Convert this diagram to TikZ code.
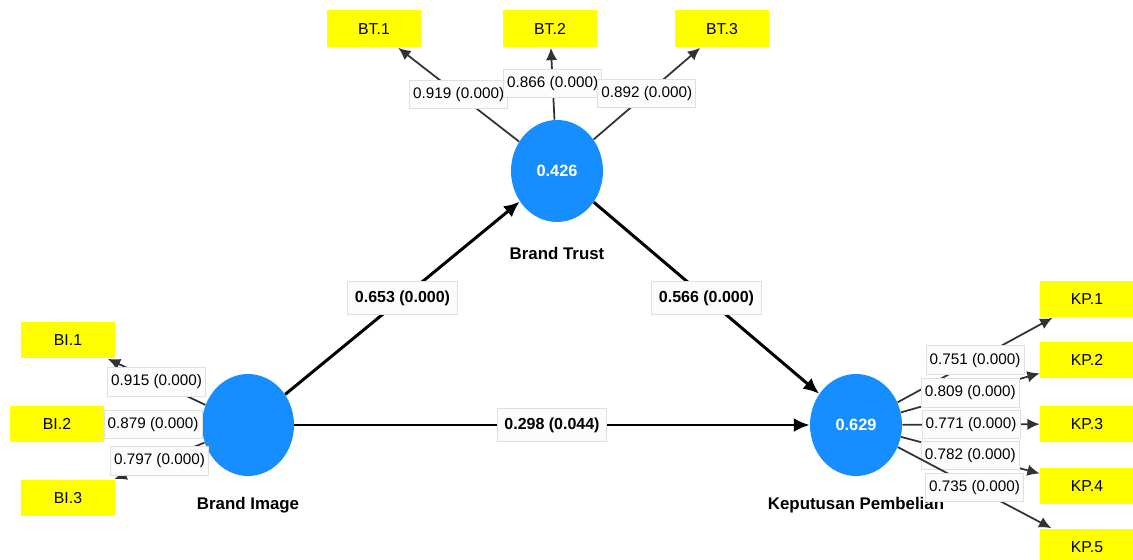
\documentclass[tikz,border=0pt]{standalone}
\usepackage{fontspec}
\setmainfont{Liberation Sans}
\usetikzlibrary{arrows.meta,positioning,shapes.geometric}
\definecolor{lvblue}{RGB}{22,142,255}
\definecolor{indyellow}{RGB}{255,255,0}
\definecolor{valframe}{RGB}{224,224,224}
\definecolor{valfill}{RGB}{252,252,252}
\definecolor{loadline}{RGB}{50,50,50}
\begin{document}
\begin{tikzpicture}[x=0.02cm,y=-0.02cm,
    latent/.style={ellipse,fill=lvblue,minimum width=1.84cm,minimum height=2.04cm,
      inner sep=0pt,text=white,font=\fontsize{9.3}{11}\selectfont\bfseries},
    indicator/.style={rectangle,fill=indyellow,minimum width=1.88cm,minimum height=0.74cm,
      inner sep=0pt,font=\fontsize{9}{11}\selectfont},
    lvname/.style={inner sep=0pt,font=\fontsize{9.6}{11}\selectfont\bfseries},
    inner/.style={line width=1.7pt,-{Latex[length=9pt,width=8pt]}},
    outer/.style={line width=1pt,draw=loadline,-{Latex[length=7pt,width=6.5pt]}},
    loading/.style={fill=valfill,draw=valframe,line width=0.5pt,inner xsep=2pt,
      inner ysep=4pt,font=\fontsize{8.7}{10}\selectfont},
    coef/.style={loading,inner xsep=4pt,inner ysep=5pt,font=\fontsize{9.1}{10}\selectfont\bfseries}]
  \useasboundingbox (0,0) rectangle (1133,560);
  \node[latent] (BI) at (248,425) {};
  \node[latent] (BT) at (557,171) {0.426};
  \node[latent] (KP) at (856,425) {0.629};
  \node[lvname, below=0.42cm of BI] (BIname) {Brand Image};
  \node[lvname, below=0.5cm of BT] (BTname) {Brand Trust};
  \node[lvname, below=0.42cm of KP] (KPname) {Keputusan Pembelian};
  \node[indicator] (BI1) at (68,340) {BI.1};
  \node[indicator] (BI2) at (57,424) {BI.2};
  \node[indicator] (BI3) at (68,498) {BI.3};
  \node[indicator] (BT1) at (374,29) {BT.1};
  \node[indicator] (BT2) at (550,29) {BT.2};
  \node[indicator] (BT3) at (722,29) {BT.3};
  \node[indicator] (KP1) at (1087,299) {KP.1};
  \node[indicator] (KP2) at (1087,360) {KP.2};
  \node[indicator] (KP3) at (1087,424) {KP.3};
  \node[indicator] (KP4) at (1087,486) {KP.4};
  \node[indicator] (KP5) at (1087,547) {KP.5};
  \begin{scope}[inner]
    \draw (BI) to node[coef]{0.653 (0.000)} (BT);
    \draw (BT) to node[coef]{0.566 (0.000)} (KP);
    \draw (BI) to node[coef]{0.298 (0.044)} (KP);
  \end{scope}
  \begin{scope}[outer]
    \draw (BI) to node[loading]{0.915 (0.000)} (BI1);
    \draw (BI) to node[loading]{0.879 (0.000)} (BI2);
    \draw (BI) to node[loading]{0.797 (0.000)} (BI3);
    \draw (BT) to node[loading]{0.919 (0.000)} (BT1);
    \draw (BT) to node[loading]{0.866 (0.000)} (BT2);
    \draw (BT) to node[loading]{0.892 (0.000)} (BT3);
    \draw (KP) to node[loading]{0.751 (0.000)} (KP1);
    \draw (KP) to node[loading]{0.809 (0.000)} (KP2);
    \draw (KP) to node[loading]{0.771 (0.000)} (KP3);
    \draw (KP) to node[loading]{0.782 (0.000)} (KP4);
    \draw (KP) to node[loading]{0.735 (0.000)} (KP5);
  \end{scope}
\end{tikzpicture}
\end{document}
